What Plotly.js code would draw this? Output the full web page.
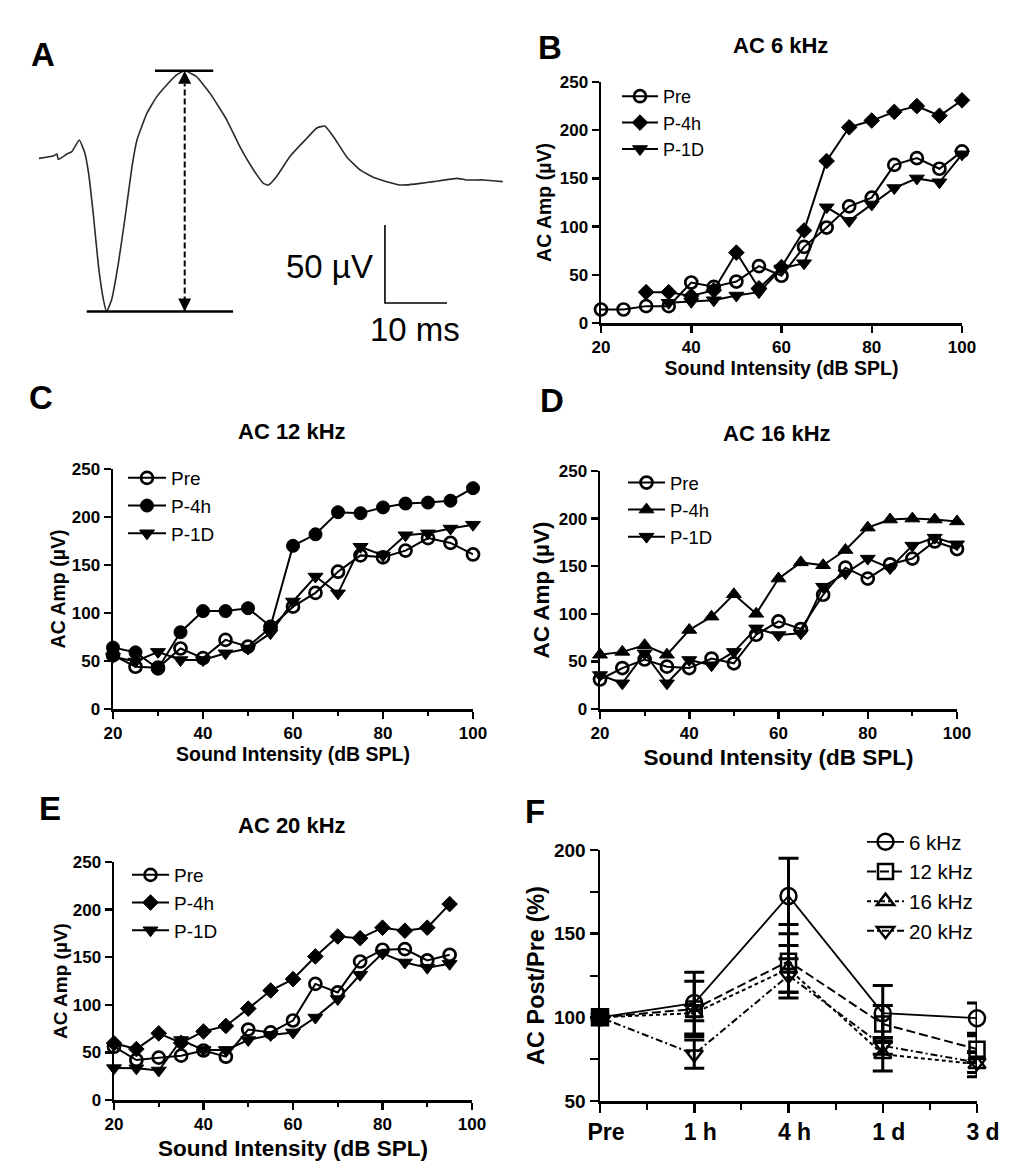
<!DOCTYPE html>
<html><head><meta charset="utf-8">
<script src="https://cdn.plot.ly/plotly-3.0.1.min.js"></script>
<style>html,body{margin:0;padding:0;background:#fff}#chart{width:1022px;height:1175px}</style>
</head><body><div id="chart"></div>
<script>
// ---------- Panel A: example AC waveform (time in ms, amplitude in µV) ----------
const waveT = [0, 2.3, 2.9, 3.1, 4.5, 5.3, 6.5, 7.4, 8.0, 8.8, 9.6, 10.4, 10.9, 11.7, 12.8, 13.9, 15.0, 15.8, 17.4, 19.0,
  20.6, 22.2, 23.5, 25.4, 27.6, 30.3, 32.4, 34.6, 36.2, 37.0, 38.3, 40.5, 43.2, 44.8, 46.1, 47.5, 49.6, 51.8, 53.9, 56.1,
  58.2, 59.3, 61.5, 63.6, 67.4, 69.0, 71.7, 74.8];
const waveV = [-0.9, 0.6, 1.9, -1.5, 1.9, 3.4, 10.9, 2.4, -10.5, -38.3, -70.3, -91.7, -99.1, -91.7, -68.2, -38.3, -6.2, 10.9, 28.0, 38.7,
  46.2, 52.6, 55.3, 51.5, 40.8, 23.7, 6.6, -8.3, -16.9, -17.9, -12.6, 0.5, 12.0, 18.6, 19.9, 13.0, 0.2, -8.3, -13.0, -15.8,
  -17.9, -17.9, -16.9, -15.8, -13.7, -14.7, -14.7, -15.8];
const scaleBarMs = 10;
const scaleBarUv = 50;

// ---------- Panels B-E: AC amplitude vs sound intensity ----------
const intensity = [20, 25, 30, 35, 40, 45, 50, 55, 60, 65, 70, 75, 80, 85, 90, 95, 100];
const seriesNames = ['Pre', 'P-4h', 'P-1D'];

const k6Pre  = [14, 14, 17.5, 17.5, 42, 37.5, 43, 59, 49, 79, 99, 121, 130, 164, 171, 160, 178];
const k6P4h  = [null, null, 32, 32, 28, 34, 73, 36, 58, 96, 168, 203, 210, 219, 225, 215, 231];
const k6P1D  = [null, null, null, 21, 22, 23.6, 28.5, 32, 56.6, 62, 120, 106, 123, 140, 150, 146, 175];

const k12Pre = [56, 44, 43, 63, 53, 72, 65, 85, 106.6, 121, 143, 160, 158, 165, 178, 173, 161];
const k12P4h = [64, 59, 42, 80, 102, 102, 105, 86, 170, 182, 205, 204, 210, 214, 215, 217, 230];
const k12P1D = [54.5, 49.5, 59.5, 51, 51, 58, 63, 79, 112, 138, 120.5, 169, 160, 181, 183, 188, 192];

const k16Pre = [31, 43, 52, 44.5, 43, 53, 48, 78, 92, 84, 120, 148.5, 137, 152, 158, 176, 168];
const k16P4h = [57, 60, 67, 57, 83, 97, 120.5, 100, 137, 154, 151, 167, 190.5, 199, 200, 199, 197];
const k16P1D = [35.7, 27, 58.5, 27, 51.5, 46, 60, 84.7, 77.7, 79.5, 128.5, 142.5, 158, 148, 171.6, 180, 173];

const k20Pre = [56, 42, 44.5, 46.6, 52, 45.5, 74, 71, 83.5, 122, 113, 145.5, 157.8, 158.5, 146.6, 152.5, null];
const k20P4h = [59.6, 53.5, 70, 60, 72, 77.8, 96, 115, 127, 150.8, 171.8, 170, 181, 177.8, 181, 205.8, null];
const k20P1D = [33.5, 33.3, 31, 63, 52.6, 52.6, 63, 68.3, 71, 86.6, 106, 131.5, 154, 144.5, 139, 143, null];

// ---------- Panel F: AC Post/Pre (%) over time ----------
const timepoints = ['Pre', '1 h', '4 h', '1 d', '3 d'];
const freqNames = ['6 kHz', '12 kHz', '16 kHz', '20 kHz'];
const r6  = [100, 108.5, 172.5, 102.5, 99.5];
const r12 = [100, 105, 133.5, 96, 81];
const r16 = [100, 102.5, 129, 78, 72];
const r20 = [100, 78, 125, 83, 73];
const e6  = [null, 18.5, 22.5, 16.5, 9];
const e12 = [null, 16.5, 22, 11, 8];
const e16 = [null, 4.5, 14, 10, 7.5];
const e20 = [null, 8.5, 10, 5, 6];

// ---------- layout helpers ----------
const FONT = 'Arial, "Liberation Sans", Helvetica, sans-serif';
const W = 1022, H = 1175;
const PX = p => p / W;
const PY = p => 1 - p / H;
const BLACK = '#000';

function xAmp(d0, d1, anchor, titleSize, standoff, minor) {
  const a = {
    domain: [PX(d0), PX(d1)], anchor, range: [20, 100], tickmode: 'linear', tick0: 20, dtick: 20,
    showline: true, linewidth: 2.5, linecolor: BLACK, ticks: 'outside', ticklen: 7, tickwidth: 2.5, tickcolor: BLACK,
    showgrid: false, zeroline: false, fixedrange: true,
    tickfont: {family: FONT, size: 17, weight: 'bold', color: BLACK},
    title: {text: 'Sound Intensity (dB SPL)', standoff, font: {family: FONT, size: titleSize, weight: 'bold', color: BLACK}}
  };
  if (minor) a.minor = {tick0: 20, dtick: 10, ticks: 'outside', ticklen: 4, tickwidth: 2, tickcolor: BLACK};
  return a;
}
function yAmp(d0, d1, anchor, titleSize, standoff) {
  return {
    domain: [PY(d1), PY(d0)], anchor, range: [0, 250], tickmode: 'linear', tick0: 0, dtick: 50,
    showline: true, linewidth: 2.5, linecolor: BLACK, ticks: 'outside', ticklen: 7, tickwidth: 2.5, tickcolor: BLACK,
    showgrid: false, zeroline: false, fixedrange: true,
    tickfont: {family: FONT, size: 17, weight: 'bold', color: BLACK},
    title: {text: 'AC Amp (µV)', standoff, font: {family: FONT, size: titleSize, weight: 'bold', color: BLACK}}
  };
}

const markerStyles = {
  'circle-open': {size: 12, line: 2.7},
  'circle': {size: 13, line: 1},
  'diamond': {size: 12, line: 1},
  'triangle-up': {size: 13, line: 1},
  'triangle-down': {size: 13, line: 1}
};

function ampTraces(xa, ya, legend, ys, symbols) {
  return ys.map((y, i) => ({
    type: 'scatter', mode: 'lines+markers', x: intensity, y, name: seriesNames[i],
    xaxis: xa, yaxis: ya, legend, cliponaxis: false,
    line: {color: BLACK, width: 2},
    marker: {symbol: symbols[i], size: markerStyles[symbols[i]].size, color: BLACK,
             line: {color: BLACK, width: markerStyles[symbols[i]].line}}
  }));
}

// ---------- traces ----------
const traces = [];

// Panel A
const vMax = Math.max(...waveV), vMin = Math.min(...waveV);
const tPeak = waveT[waveV.indexOf(vMax)];
traces.push({type: 'scatter', mode: 'lines', x: waveT, y: waveV, xaxis: 'x', yaxis: 'y', showlegend: false,
  line: {color: '#2a2a2a', width: 1.6, shape: 'spline', smoothing: 0.4}, hoverinfo: 'skip'});
traces.push({type: 'scatter', mode: 'lines', x: [18.7, 28.1], y: [vMax, vMax], xaxis: 'x', yaxis: 'y', showlegend: false,
  line: {color: BLACK, width: 2.5}, hoverinfo: 'skip'});
traces.push({type: 'scatter', mode: 'lines', x: [7.7, 31.3], y: [vMin, vMin], xaxis: 'x', yaxis: 'y', showlegend: false,
  line: {color: BLACK, width: 2.5}, hoverinfo: 'skip'});
traces.push({type: 'scatter', mode: 'lines+markers', x: [tPeak, tPeak], y: [vMin, vMax], xaxis: 'x', yaxis: 'y', showlegend: false,
  line: {color: BLACK, width: 2, dash: '6px,3px'}, cliponaxis: false,
  marker: {symbol: ['arrow-down', 'arrow-up'], size: 13, color: BLACK, line: {width: 0}}, hoverinfo: 'skip'});
const sbT = 55.8, sbV = -93.6;
traces.push({type: 'scatter', mode: 'lines', x: [sbT, sbT, sbT + scaleBarMs], y: [sbV + scaleBarUv, sbV, sbV],
  xaxis: 'x', yaxis: 'y', showlegend: false, line: {color: BLACK, width: 1.6}, hoverinfo: 'skip'});

// Panels B-E
traces.push(...ampTraces('x2', 'y2', 'legend', [k6Pre, k6P4h, k6P1D], ['circle-open', 'diamond', 'triangle-down']));
traces.push(...ampTraces('x3', 'y3', 'legend2', [k12Pre, k12P4h, k12P1D], ['circle-open', 'circle', 'triangle-down']));
traces.push(...ampTraces('x4', 'y4', 'legend3', [k16Pre, k16P4h, k16P1D], ['circle-open', 'triangle-up', 'triangle-down']));
traces.push(...ampTraces('x5', 'y5', 'legend4', [k20Pre, k20P4h, k20P1D], ['circle-open', 'diamond', 'triangle-down']));

// Panel F
const tIdx = timepoints.map((_, i) => i);
const fSeries = [
  {y: r6,  e: e6,  sym: 'circle-open',        dash: 'solid',            w: 1.8, size: 16},
  {y: r12, e: e12, sym: 'square-open',        dash: '9px,4px',          w: 2,   size: 15},
  {y: r16, e: e16, sym: 'triangle-up-open',   dash: '4px,3px',          w: 2,   size: 15},
  {y: r20, e: e20, sym: 'triangle-down-open', dash: '7px,3px,2px,3px',  w: 2,   size: 15}
];
fSeries.forEach((s, i) => {
  traces.push({type: 'scatter', mode: 'lines+markers', x: tIdx, y: s.y, name: freqNames[i],
    xaxis: 'x6', yaxis: 'y6', legend: 'legend5', cliponaxis: false,
    line: {color: BLACK, width: s.w, dash: s.dash},
    marker: {symbol: s.sym, size: s.size, color: BLACK, line: {color: BLACK, width: 2.5}},
    error_y: {type: 'data', array: s.e, visible: true, color: BLACK, thickness: 3, width: 10}});
});
// all series start at the Pre baseline: drawn as one filled square
traces.push({type: 'scatter', mode: 'markers', x: [tIdx[0]], y: [r12[0]], xaxis: 'x6', yaxis: 'y6',
  showlegend: false, cliponaxis: false, hoverinfo: 'skip',
  marker: {symbol: 'square', size: 16, color: BLACK, line: {color: BLACK, width: 2.5}}});

// ---------- layout ----------
function legendAt(xpx, ypx, fsize, iw) {
  return {x: PX(xpx), y: PY(ypx), xanchor: 'left', yanchor: 'top', bgcolor: 'rgba(0,0,0,0)',
    borderwidth: 0, itemwidth: iw, tracegroupgap: 0, traceorder: 'normal',
    font: {family: FONT, size: fsize, color: BLACK}, itemclick: false, itemdoubleclick: false};
}
function label(text, xpx, ypx, size, bold, anchor) {
  return {xref: 'paper', yref: 'paper', x: PX(xpx), y: PY(ypx), text, showarrow: false,
    xanchor: anchor || 'center', yanchor: 'middle',
    font: {family: FONT, size, color: BLACK, weight: bold ? 'bold' : 'normal'}};
}

const layout = {
  width: W, height: H, margin: {l: 0, r: 0, t: 0, b: 0},
  paper_bgcolor: '#fff', plot_bgcolor: '#fff', showlegend: true,
  font: {family: FONT, color: BLACK},
  // Panel A
  xaxis: {domain: [PX(36), PX(506)], range: [(36 - 39) / 6.2, (506 - 39) / 6.2], visible: false, fixedrange: true},
  yaxis: {domain: [PY(345), PY(55)], range: [(157 - 345) / 1.56, (157 - 55) / 1.56], visible: false, fixedrange: true, anchor: 'x'},
  // Panel B
  xaxis2: xAmp(601, 962, 'y2', 19.5, 4, false),
  yaxis2: yAmp(82, 323, 'x2', 19.5, 3),
  // Panel C
  xaxis3: xAmp(113, 473, 'y3', 19.5, 6, true),
  yaxis3: yAmp(469, 709, 'x3', 19.5, 1),
  // Panel D
  xaxis4: xAmp(600, 957, 'y4', 22.5, 8, true),
  yaxis4: yAmp(471, 709, 'x4', 22.5, 3),
  // Panel E
  xaxis5: xAmp(114, 472, 'y5', 22.5, 8, true),
  yaxis5: yAmp(862, 1100, 'x5', 19, 0),
  // Panel F
  xaxis6: {domain: [PX(600), PX(977)], anchor: 'y6', range: [0, 4], tickmode: 'array', tickvals: tIdx, ticktext: timepoints,
    showline: true, linewidth: 2.5, linecolor: BLACK, ticks: 'outside', ticklen: 9, tickwidth: 2.5, tickcolor: BLACK,
    minor: {tick0: 0, dtick: 0.5, ticks: 'outside', ticklen: 6, tickwidth: 2, tickcolor: BLACK},
    ticklabelshift: 6, showgrid: false, zeroline: false, fixedrange: true,
    tickfont: {family: FONT, size: 23, weight: 'bold', color: BLACK}},
  yaxis6: {domain: [PY(1101), PY(850)], anchor: 'x6', range: [50, 200], tickmode: 'linear', tick0: 50, dtick: 50,
    showline: true, linewidth: 2.5, linecolor: BLACK, ticks: 'outside', ticklen: 8, tickwidth: 2.5, tickcolor: BLACK,
    minor: {tick0: 50, dtick: 25, ticks: 'outside', ticklen: 8, tickwidth: 2, tickcolor: BLACK},
    showgrid: false, zeroline: false, fixedrange: true,
    tickfont: {family: FONT, size: 19, weight: 'bold', color: BLACK},
    title: {text: 'AC Post/Pre (%)', standoff: 3, font: {family: FONT, size: 23.5, weight: 'bold', color: BLACK}}},
  legend: legendAt(617, 78, 18, 36),
  legend2: legendAt(123, 459, 19, 38),
  legend3: legendAt(623, 464, 18.5, 37),
  legend4: legendAt(127, 856, 19, 37),
  legend5: legendAt(862, 822, 20.5, 37),
  annotations: [
    label('A', 43, 54, 33, true), label('B', 550, 48, 33, true), label('C', 41, 397, 33, true),
    label('D', 552, 400, 33, true), label('E', 50, 809, 33, true), label('F', 535, 811, 33, true),
    label('AC 6 kHz', 780, 46, 22, true), label('AC 12 kHz', 292, 432, 22, true),
    label('AC 16 kHz', 777, 433, 22, true), label('AC 20 kHz', 292, 825, 22, true),
    {xref: 'x', yref: 'y', x: 54.2, y: (157 - 267) / 1.56, text: scaleBarUv + ' µV', showarrow: false,
      xanchor: 'right', yanchor: 'middle', font: {family: FONT, size: 33, color: BLACK}},
    {xref: 'x', yref: 'y', x: 60.6, y: (157 - 330) / 1.56, text: scaleBarMs + ' ms', showarrow: false,
      xanchor: 'center', yanchor: 'middle', font: {family: FONT, size: 33, color: BLACK}}
  ]
};

Plotly.newPlot('chart', traces, layout, {staticPlot: true, displayModeBar: false});
</script>
</body></html>
